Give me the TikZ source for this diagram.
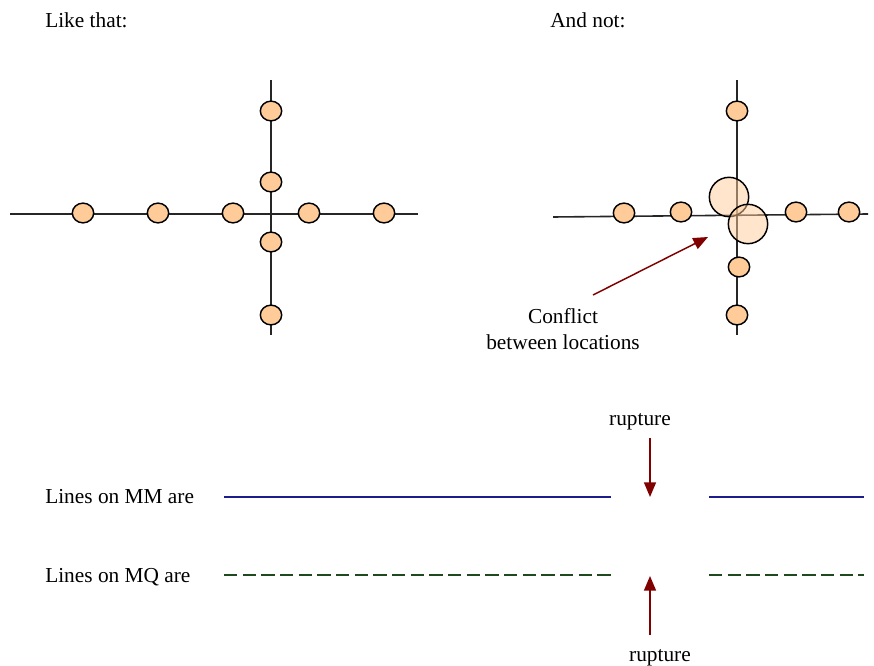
\documentclass[tikz,border=0pt]{standalone}
\usepackage{fontspec}
\setmainfont{Liberation Serif}
\usetikzlibrary{shapes.geometric,arrows.meta}
\definecolor{peach}{HTML}{FFCC99}
\definecolor{darkred}{HTML}{800000}
\definecolor{navyline}{HTML}{1C1C8C}
\definecolor{greenline}{HTML}{1F4A1F}
\begin{document}
\begin{tikzpicture}[x=0.75pt,y=-0.75pt,
  txt/.style={font=\fontsize{16}{19}\selectfont,inner sep=0pt},
  loc/.style={ellipse,draw=black,line width=1.1pt,fill=peach,minimum width=16pt,minimum height=14.8pt,inner sep=0pt},
  bigloc/.style={circle,draw=black,line width=1.1pt,fill=peach,fill opacity=0.5,draw opacity=1,minimum size=29.5pt,inner sep=0pt},
  axis/.style={draw=black!85,line width=1.2pt},
  redarrow/.style={draw=darkred,line width=1.1pt,-{Triangle[width=9pt,length=11pt]}},
  mm/.style={draw=navyline,line width=1.2pt},
  mq/.style={draw=greenline,line width=2pt,dash pattern=on 10pt off 4pt}]
\useasboundingbox (0,0) rectangle (874,666);
% titles
\node[txt,anchor=base west] (t1) at (45,28) {Like that:};
\node[txt,anchor=base west] (t2) at (550,28) {And not:};
% left cross
\coordinate (lh1) at (10,214); \coordinate (lh2) at (418,214);
\coordinate (lv1) at (271,80); \coordinate (lv2) at (271,335);
\draw[axis] (lh1) -- (lh2);
\draw[axis] (lv1) -- (lv2);
\node[loc] (a1) at (83,213) {};
\node[loc] (a2) at (158,213) {};
\node[loc] (a3) at (233,213) {};
\node[loc] (a4) at (309,213) {};
\node[loc] (a5) at (384,213) {};
\node[loc] (b1) at (271,111) {};
\node[loc] (b2) at (271,182) {};
\node[loc] (b3) at (271,242) {};
\node[loc] (b4) at (271,315) {};
% right cross
\coordinate (rh1) at (553,217); \coordinate (rh2) at (868,214);
\coordinate (rv1) at (737,80); \coordinate (rv2) at (737,335);
\draw[axis] (rh1) -- (rh2);
\draw[axis] (rv1) -- (rv2);
\node[loc] (c1) at (624,213) {};
\node[loc] (c2) at (681,212) {};
\node[loc] (c3) at (796,212) {};
\node[loc] (c4) at (849,212) {};
\node[loc] (d1) at (737,111) {};
\node[loc] (d2) at (739,267) {};
\node[loc] (d3) at (737,315) {};
\node[bigloc] (e1) at (729,197) {};
\node[bigloc] (e2) at (748,224) {};
% conflict label
\node[txt,align=center] (conf) at (563,329) {Conflict\\between locations};
\coordinate (ctip) at (708,237);
\coordinate (cstart) at (593,295);
\draw[redarrow] (cstart) -- (ctip);
% bottom
\node[txt,anchor=base west] (l1) at (45,503) {Lines on MM are};
\node[txt,anchor=base west] (l2) at (45,582) {Lines on MQ are};
\coordinate (m1) at (224,497); \coordinate (m2) at (611,497);
\coordinate (m3) at (709,497); \coordinate (m4) at (864,497);
\draw[mm] (m1) -- (m2);
\draw[mm] (m3) -- (m4);
\coordinate (q1) at (224,575); \coordinate (q2) at (611,575);
\coordinate (q3) at (709,575); \coordinate (q4) at (864,575);
\draw[mq] (q1) -- (q2);
\draw[mq] (q3) -- (q4);
\node[txt,anchor=base] (r1) at (640,425) {rupture};
\node[txt,anchor=base] (r2) at (660,661) {rupture};
\coordinate (r1s) at (650,438); \coordinate (r1e) at (650,497);
\coordinate (r2s) at (650,635); \coordinate (r2e) at (650,576);
\draw[redarrow] (r1s) -- (r1e);
\draw[redarrow] (r2s) -- (r2e);
\end{tikzpicture}
\end{document}
